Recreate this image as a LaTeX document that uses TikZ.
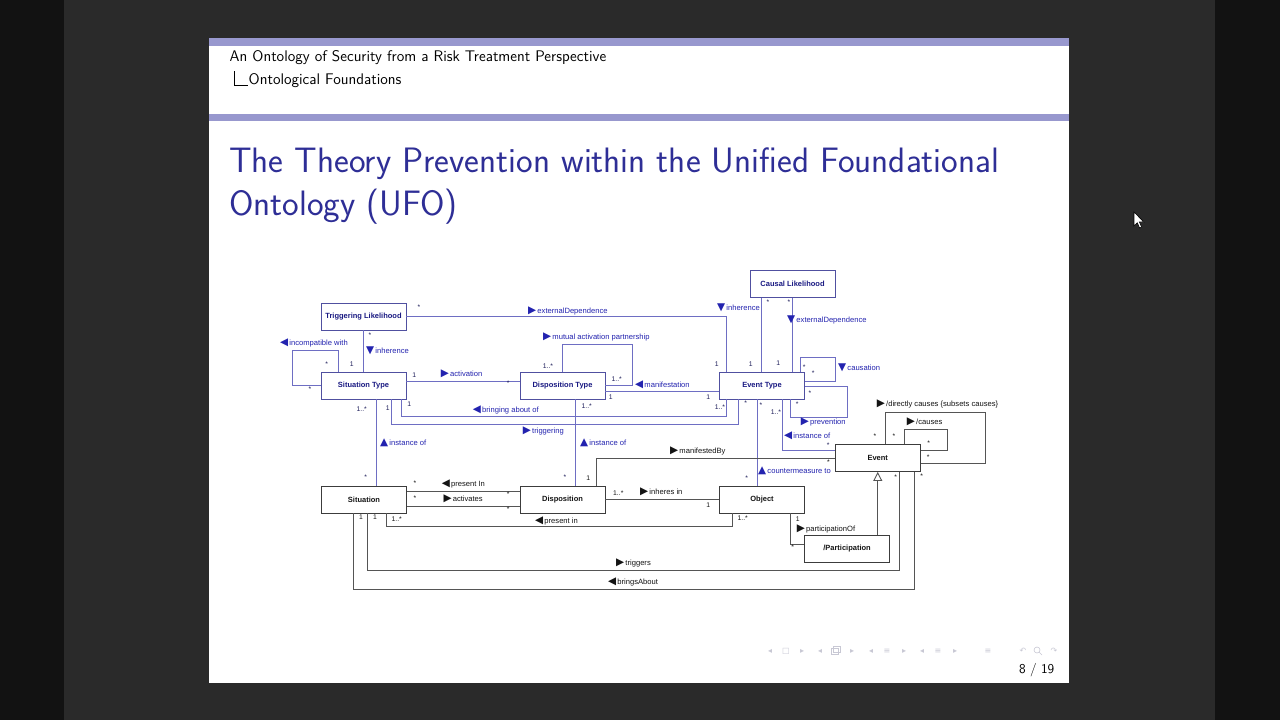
\documentclass[tikz,border=0pt]{standalone}
\usepackage{fontspec}
\usetikzlibrary{arrows.meta}
\newfontfamily\arial{Liberation Sans}
\newfontfamily\dejavu{DejaVu Sans}
\definecolor{outerc}{RGB}{18,18,18}
\definecolor{midc}{RGB}{42,42,42}
\definecolor{band}{RGB}{152,152,206}
\definecolor{titleblue}{RGB}{46,46,150}
\definecolor{bbord}{RGB}{80,80,160}
\definecolor{bline}{RGB}{110,110,195}
\definecolor{btext}{RGB}{35,35,175}
\definecolor{bboxtext}{RGB}{25,25,130}
\definecolor{bmult}{RGB}{30,30,90}
\definecolor{kbord}{RGB}{60,60,60}
\definecolor{kline}{RGB}{85,85,85}
\definecolor{ktext}{RGB}{20,20,20}
\definecolor{navc}{RGB}{200,200,212}
\newcommand\triR{{\dejavu\fontsize{10.5}{10}\selectfont ▶}\kern1.2pt}
\newcommand\triL{{\dejavu\fontsize{10.5}{10}\selectfont ◀}\kern1.2pt}
\newcommand\triU{{\dejavu\fontsize{10.5}{10}\selectfont ▲}\kern1.2pt}
\newcommand\triD{{\dejavu\fontsize{10.5}{10}\selectfont ▼}\kern1.2pt}
\tikzset{
  tbox/.style={draw=bbord, line width=0.9pt, fill=white, minimum width=85pt, minimum height=27pt,
    inner sep=0pt, font=\arial\bfseries\fontsize{7.5}{9}\selectfont, text=bboxtext},
  ibox/.style={tbox, draw=kbord, text=ktext},
  bl/.style={draw=bline, line width=0.9pt},
  kl/.style={draw=kline, line width=0.9pt},
  lblb/.style={inner sep=0pt, anchor=west, text height=6pt, text depth=1.5pt,
    font=\arial\fontsize{7.6}{8}\selectfont, text=btext},
  lblk/.style={lblb, text=ktext},
  mb/.style={inner sep=0pt, font=\arial\fontsize{6.8}{7}\selectfont, text=bmult},
  mk/.style={mb, text=ktext},
  nav/.style={inner sep=0pt, font=\dejavu\fontsize{8}{8}\selectfont, text=navc},
}
\begin{document}
\begin{tikzpicture}[x=1pt,y=-1pt]
\useasboundingbox (0,0) rectangle (1280,720);
\fill[outerc] (0,0) rectangle (1280,720);
\fill[midc] (64,0) rectangle (1215,720);
\fill[white] (209,38) rectangle (1069,683);
\fill[band] (209,38) rectangle (1069,46);
\fill[band] (209,114) rectangle (1069,121);

% header
\node[anchor=west, inner sep=0pt, font=\sffamily\fontsize{15.4}{18}\selectfont] (hd1) at (229.5,58) {An Ontology of Security from a Risk Treatment Perspective};
\coordinate (c1) at (234,71);
\coordinate (c2) at (234,85);
\coordinate (c3) at (248,85);
\draw[line width=0.6pt] (c1) -- (c2) -- (c3);
\node[anchor=west, inner sep=0pt, font=\sffamily\fontsize{15.4}{18}\selectfont] (hd2) at (248.5,81) {Ontological Foundations};

% title
\node[anchor=base west, inner sep=0pt, font=\sffamily\fontsize{35.3}{40}\selectfont, text=titleblue] (t1) at (229,172) {The Theory Prevention within the Unified Foundational};
\node[anchor=base west, inner sep=0pt, font=\sffamily\fontsize{35.3}{40}\selectfont, text=titleblue] (t2) at (229,215) {Ontology (UFO)};

% boxes
\node[tbox] (tl) at (363.5,316.5) {Triggering Likelihood};
\node[tbox] (cl) at (792.5,284) {Causal Likelihood};
\node[tbox] (st) at (363.5,385.5) {Situation Type};
\node[tbox] (dt) at (562.5,385.5) {Disposition Type};
\node[tbox] (et) at (762,385.5) {Event Type};
\node[ibox] (sit) at (364,499.5) {Situation};
\node[ibox] (disp) at (562.5,499.5) {Disposition};
\node[ibox] (obj) at (762,499.5) {Object};
\node[ibox] (event) at (877.75,458) {Event};
\node[ibox] (part) at (847,549) {/Participation};

% blue connectors
\draw[bl] (st.west) -| (292,350) -| (st.north -| 338,0);
\draw[bl] (tl.south) -- (st.north);
\draw[bl] (tl.east) -| (et.north -| 726.7,0);
\draw[bl] (cl.south -| 761.7,0) -- (et.north -| 761.7,0);
\draw[bl] (cl.south) -- (et.north -| cl.south);
\draw[bl] (et.north -| 800,0) |- (835,357) |- (et.east |- 0,381);
\draw[bl] (et.east |- 0,386.5) -| (847,417) -| (et.south -| 790,0);
\draw[bl] (dt.north) |- (632.7,344.3) |- (dt.east |- 0,385.7);
\draw[bl] (dt.east |- 0,391.7) -- (et.west |- 0,391.7);
\draw[bl] (st.east |- 0,381.7) -- (dt.west |- 0,381.7);
\draw[bl] (st.south -| 401.7,0) |- (726.7,416.7) -- (et.south -| 726.7,0);
\draw[bl] (st.south -| 391.7,0) |- (738.3,424.3) -- (et.south -| 738.3,0);
\draw[bl] (st.south -| 376.7,0) -- (sit.north -| 376.7,0);
\draw[bl] (dt.south -| 575.7,0) -- (disp.north -| 575.7,0);
\draw[bl] (et.south -| 782.7,0) |- (event.west |- 0,450.7);
\draw[bl] (et.south -| 757.3,0) -- (obj.north -| 757.3,0);

% black connectors
\draw[kl] (disp.north -| 596.7,0) |- (event.west |- 0,458.3);
\draw[kl] (sit.east |- 0,491) -- (disp.west |- 0,491);
\draw[kl] (sit.east |- 0,506) -- (disp.west |- 0,506);
\draw[kl] (sit.south -| 386,0) |- (732.7,526) -- (obj.south -| 732.7,0);
\draw[kl] (disp.east) -- (obj.west);
\draw[kl] (obj.south -| 790,0) |- (part.west |- 0,544);
\draw[kl, -{Triangle[open, width=9pt, length=9pt, line width=0.9pt]}] (part.north -| event.south) -- (event.south);
\draw[kl] (sit.south -| 367.7,0) |- (899.3,570) -- (event.south -| 899.3,0);
\draw[kl] (sit.south -| 353.3,0) |- (914,589) -- (event.south -| 914,0);
\draw[kl] (event.north -| 885,0) |- (985.7,412.7) |- (event.east |- 0,463.3);
\draw[kl] (event.north -| 904,0) |- (947.3,429.3) |- (event.east |- 0,450.7);

% blue labels
\node[lblb] (L1) at (280,343.3) {\triL incompatible with};
\node[lblb] (L2) at (366,351) {\triD inherence};
\node[lblb] (L3) at (528,311) {\triR externalDependence};
\node[lblb] (L4) at (717,308) {\triD inherence};
\node[lblb] (L5) at (787,320) {\triD externalDependence};
\node[lblb] (L6) at (838,368.3) {\triD causation};
\node[lblb] (L7) at (800.7,422.3) {\triR prevention};
\node[lblb] (L8) at (543,337.3) {\triR mutual activation partnership};
\node[lblb] (L9) at (635,385) {\triL manifestation};
\node[lblb] (L10) at (440.7,374) {\triR activation};
\node[lblb] (L11) at (472.7,410) {\triL bringing about of};
\node[lblb] (L12) at (522.7,431) {\triR triggering};
\node[lblb] (L13) at (380,443.3) {\triU instance of};
\node[lblb] (L14) at (580,443) {\triU instance of};
\node[lblb] (L15) at (784,436.7) {\triL instance of};
\node[lblb] (L16) at (758,471.5) {\triU countermeasure to};

% black labels
\node[lblk] (K1) at (670,451) {\triR manifestedBy};
\node[lblk] (K2) at (441.7,484.3) {\triL present In};
\node[lblk] (K3) at (443.3,499) {\triR activates};
\node[lblk] (K4) at (535,521) {\triL present in};
\node[lblk] (K5) at (640,492.7) {\triR inheres in};
\node[lblk] (K6) at (796.7,529) {\triR participationOf};
\node[lblk] (K7) at (616,563.3) {\triR triggers};
\node[lblk] (K8) at (608,582.7) {\triL bringsAbout};
\node[lblk] (K9) at (876.7,404) {\triR /directly causes \{subsets causes\}};
\node[lblk] (K10) at (906.7,422.3) {\triR /causes};

% blue multiplicities
\node[mb] (m1) at (419,307) {*};
\node[mb] (m2) at (716.7,364) {1};
\node[mb] (m3) at (370,335) {*};
\node[mb] (m4) at (351.7,364) {1};
\node[mb] (m5) at (326.7,364) {*};
\node[mb] (m6) at (310,389) {*};
\node[mb] (m7) at (768,302) {*};
\node[mb] (m8) at (750.7,364) {1};
\node[mb] (m9) at (789,302) {*};
\node[mb] (m10) at (778.3,363.3) {1};
\node[mb] (m11) at (804.3,367.3) {*};
\node[mb] (m12) at (813.3,372.7) {*};
\node[mb] (m13) at (810,392.7) {*};
\node[mb] (m14) at (797.3,404.3) {*};
\node[mb] (m15) at (548,366) {1..*};
\node[mb] (m16) at (616.7,379.3) {1..*};
\node[mb] (m17) at (610.7,397.3) {1};
\node[mb] (m18) at (708.3,397.3) {1};
\node[mb] (m19) at (414.3,375) {1};
\node[mb] (m20) at (508.3,383.3) {*};
\node[mb] (m21) at (409.3,404.3) {1};
\node[mb] (m22) at (720,407.3) {1..*};
\node[mb] (m23) at (387.7,408.3) {1};
\node[mb] (m24) at (745.7,402.7) {*};
\node[mb] (m25) at (361.7,409) {1..*};
\node[mb] (m26) at (365.7,477) {*};
\node[mb] (m27) at (586.7,405.7) {1..*};
\node[mb] (m28) at (565,477.3) {*};
\node[mb] (m29) at (776,411.7) {1..*};
\node[mb] (m30) at (828.3,445) {*};
\node[mb] (m31) at (761,405) {*};
\node[mb] (m32) at (746.7,478.3) {*};

% black multiplicities
\node[mk] (k1) at (588.3,478.3) {1};
\node[mk] (k2) at (828.5,462.5) {*};
\node[mk] (k3) at (415,483.3) {*};
\node[mk] (k4) at (508.3,494) {*};
\node[mk] (k5) at (415,498.3) {*};
\node[mk] (k6) at (508.3,509.3) {*};
\node[mk] (k7) at (396.7,519) {1..*};
\node[mk] (k8) at (742.7,518.3) {1..*};
\node[mk] (k9) at (618.3,493.3) {1..*};
\node[mk] (k10) at (708.3,505) {1};
\node[mk] (k11) at (797.7,519) {1};
\node[mk] (k12) at (792.7,546.7) {*};
\node[mk] (k13) at (375,517.3) {1};
\node[mk] (k14) at (895.7,477.3) {*};
\node[mk] (k15) at (361,517.3) {1};
\node[mk] (k16) at (921.7,476) {*};
\node[mk] (k17) at (875,436) {*};
\node[mk] (k18) at (928.3,456.7) {*};
\node[mk] (k19) at (894,436) {*};
\node[mk] (k20) at (928.7,442.7) {*};

% navigation symbols
\node[nav] (n1) at (770,651) {◂};
\node[nav] (n2) at (786,651) {□};
\node[nav] (n3) at (802,651) {▸};
\node[nav] (n4) at (820,651) {◂};
\draw[navc, line width=0.6pt] (831,648) rectangle (838,654) (833,646) rectangle (840,652);
\node[nav] (n5) at (852,651) {▸};
\node[nav] (n6) at (871,651) {◂};
\node[nav] (n7) at (887,651) {≡};
\node[nav] (n8) at (904,651) {▸};
\node[nav] (n9) at (922,651) {◂};
\node[nav] (n10) at (938,651) {≡};
\node[nav] (n11) at (955,651) {▸};
\node[nav] (n12) at (988,651) {≡};
\node[nav] (n13) at (1023,651) {↶};
\draw[navc, line width=0.6pt] (1037,650) circle (3) (1039.2,652.2) -- (1042,655);
\node[nav] (n14) at (1054,651) {↷};

% page number
\node[anchor=east, inner sep=0pt, font=\sffamily\fontsize{13.5}{16}\selectfont] (pg) at (1054.5,670) {8 / 19};

% mouse cursor
\filldraw[fill=white, draw=black, line width=0.6pt] (1134,212) -- (1134,226) -- (1137.3,222.8) -- (1139.6,228) -- (1141.6,227.1) -- (1139.4,222) -- (1143.8,222) -- cycle;
\end{tikzpicture}
\end{document}
